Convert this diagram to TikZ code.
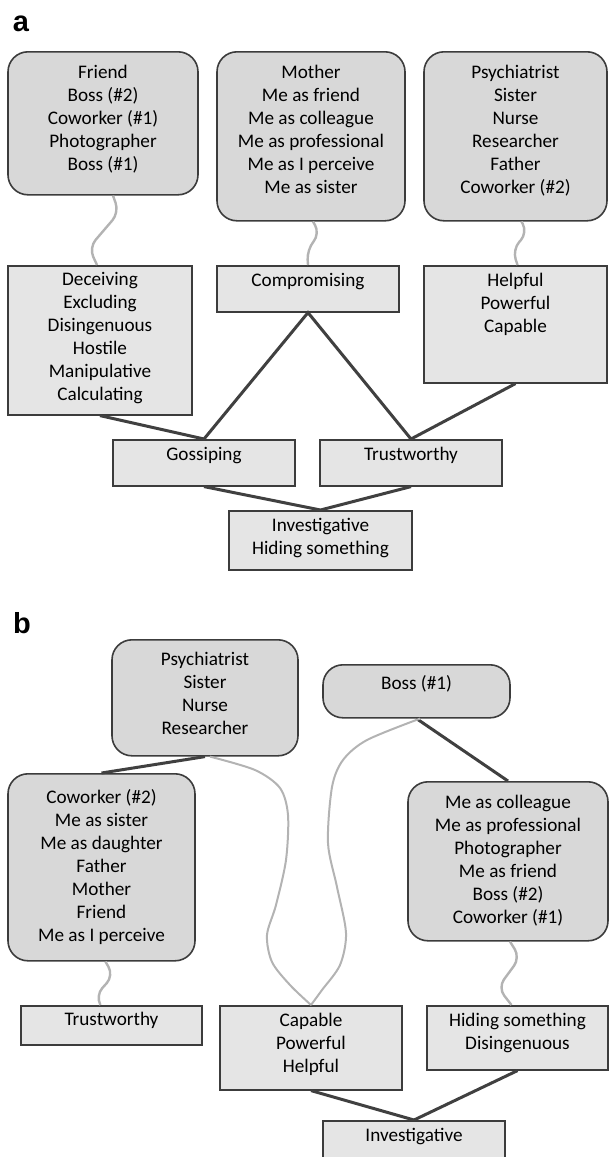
\documentclass[tikz,border=0pt]{standalone}
\usepackage{fontspec}
\setmainfont{Carlito}
\newfontfamily\lettrefont{Liberation Sans}
\definecolor{bord}{HTML}{3C3C3C}
\definecolor{trait}{HTML}{404040}
\definecolor{ondule}{HTML}{B3B3B3}
\definecolor{fondclair}{HTML}{E5E5E5}
\definecolor{fondfonce}{HTML}{D8D8D8}
\begin{document}
\begin{tikzpicture}[x=0.5pt,y=-0.5pt]
		\tikzstyle{carre}=[draw=bord, line width=0.8pt, fill=fondclair, anchor=north, align=center, inner sep=0pt, text height=10.5pt, font=\fontsize{9.6}{11.5}\selectfont]
		\tikzstyle{arrondi}=[carre, fill=fondfonce, rounded corners=10pt]
		\tikzstyle{lettre}=[font=\lettrefont\bfseries\fontsize{14.5}{14.5}\selectfont]
		\tikzstyle{lien}=[line width=1.5pt, draw=trait]
		\tikzstyle{vague}=[line width=1.2pt, draw=ondule, rounded corners=5pt]
		\tikzstyle{boucle}=[line width=1pt, draw=ondule]
		\useasboundingbox (0,0) rectangle (610,1157);
		% partie a
		\node[lettre] (la) at (21,24) {a};
		\node[arrondi, minimum width=95pt, text height=59.5pt, text depth=12pt] (a1) at (103,51) {Friend\\Boss (\#2)\\Coworker (\#1)\\Photographer\\Boss (\#1)};
		\node[arrondi, minimum width=94pt, text height=71pt, text depth=13.5pt] (a2) at (311,51) {Mother\\Me as friend\\Me as colleague\\Me as professional\\Me as I perceive\\Me as sister};
		\node[arrondi, minimum width=91.5pt, text height=71pt, text depth=13.5pt] (a3) at (515.5,51) {Psychiatrist\\Sister\\Nurse\\Researcher\\Father\\Coworker (\#2)};
		\node[carre, minimum width=92pt, text height=67.5pt, text depth=7pt] (d) at (100,265) {Deceiving\\Excluding\\Disingenuous\\Hostile\\Manipulative\\Calculating};
		\node[carre, minimum width=91pt, text depth=12.5pt] (c) at (308,265) {Compromising};
		\node[carre, minimum width=91.5pt, text height=33.5pt, text depth=25pt] (h) at (515.5,265) {Helpful\\Powerful\\Capable};
		\node[carre, minimum width=91pt, text depth=12.5pt] (g) at (204,439) {Gossiping};
		\node[carre, minimum width=91pt, text depth=12.5pt] (t) at (411,439) {Trustworthy};
		\node[carre, minimum width=91.5pt, text height=22pt, text depth=7.5pt] (i) at (320.5,510) {Investigative\\Hiding something};
		\draw[vague] ([xshift=5pt]a1.south) -- ++(6,17) -- ++(-30,35) -- ([xshift=-1.5pt]d.north);
		\draw[vague] ([xshift=1pt]a2.south) -- ++(7,12) -- ++(-13,16) -- (c.north);
		\draw[vague] ([xshift=3pt]a3.south) -- ++(6,11) -- ++(-15,17) -- ([xshift=1pt]h.north);
		\draw[lien] (d.south) -- (g.north) -- (c.south) -- (t.north) -- (h.south);
		\draw[lien] (g.south) -- (i.north) -- (t.south);
		% partie b
		\node[lettre] (lb) at (22,623) {b};
		\node[arrondi, minimum width=93pt, text height=47.5pt, text depth=10.5pt] (b1) at (205,639) {Psychiatrist\\Sister\\Nurse\\Researcher};
		\node[arrondi, minimum width=93.5pt, text height=12.5pt, text depth=14pt] (b2) at (416.5,664) {Boss (\#1)};
		\node[arrondi, minimum width=93.5pt, text height=84pt, text depth=9.5pt] (b3) at (101.5,773) {Coworker (\#2)\\Me as sister\\Me as daughter\\Father\\Mother\\Friend\\Me as I perceive};
		\node[arrondi, minimum width=100pt, text height=71pt, text depth=8.5pt] (b4) at (508,781) {Me as colleague\\Me as professional\\Photographer\\Me as friend\\Boss (\#2)\\Coworker (\#1)};
		\node[carre, minimum width=90.5pt, text height=10pt, text depth=9.5pt] (tb) at (111.5,1005) {Trustworthy};
		\node[carre, minimum width=91pt, text height=33.5pt, text depth=8.5pt] (cb) at (311,1005) {Capable\\Powerful\\Helpful};
		\node[carre, minimum width=90.5pt, text height=22pt, text depth=10pt] (hb) at (517.5,1005) {Hiding something\\Disingenuous};
		\node[carre, minimum width=91pt, text depth=12.5pt] (ib) at (414,1120) {Investigative};
		\draw[lien] (b1.south) -- (b3.north);
		\draw[lien] (b2.south) -- (b4.north);
		\draw[lien] (cb.south) -- (ib.north) -- (hb.south);
		\draw[vague] ([xshift=2pt]b3.south) -- ++(8,14) -- ++(-18,20) -- ([xshift=-5.5pt]tb.north);
		\draw[vague] ([xshift=1pt]b4.south) -- ++(10,16) -- ++(-22,30) -- ([xshift=-3pt]hb.north);
		\draw[boucle] plot[smooth] coordinates {([xshift=2.5pt]b1.south) (255,770) (280,788) (288,815) (286,860) (276,905) (267,935) (272,962) (290,985) (cb.north)};
		\draw[boucle] plot[smooth] coordinates {([xshift=1.75pt]b2.south) (367,740) (343,760) (332,787) (328,843) (337,887) (346,933) (340,965) (322,990) (cb.north)};
	\end{tikzpicture}
\end{document}
